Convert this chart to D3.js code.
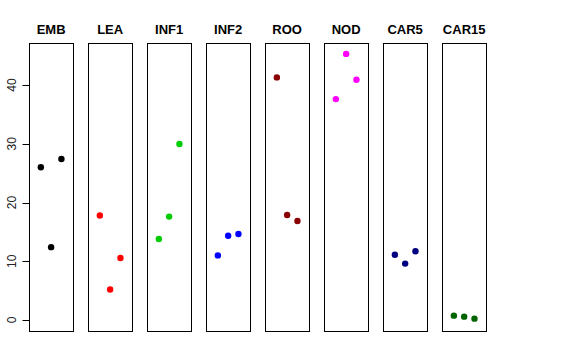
<!DOCTYPE html>
<html>
<head>
<meta charset="utf-8">
<script src="https://cdn.jsdelivr.net/npm/d3@7"></script>
<style>
  body { margin: 0; background: #fff; }
  svg { display: block; font-family: "Liberation Sans", Arial, sans-serif; }
</style>
</head>
<body>
<div id="chart"></div>
<script>
// tissues and the three replicates
var tissues = ["EMB", "LEA", "INF1", "INF2", "ROO", "NOD", "CAR5", "CAR15"];
var rep1 = [26.0, 17.8, 13.8, 11.0, 41.3, 37.6, 11.1, 0.74];
var rep2 = [12.4, 5.2, 17.6, 14.35, 17.87, 45.3, 9.6, 0.57];
var rep3 = [27.4, 10.55, 29.96, 14.64, 16.85, 40.9, 11.7, 0.23];
var colors = ["#000000", "#ff0000", "#00cd00", "#0000ff", "#8b0000", "#ff00ff", "#000080", "#006400"];
var yTicks = [0, 10, 20, 30, 40];

var width = 576, height = 360;
var plotTop = 43.3, plotBottom = 331;

var svg = d3.select("#chart").append("svg")
  .attr("width", width)
  .attr("height", height);

var x = d3.scaleBand()
  .domain(tissues)
  .range([29, 486.3])
  .paddingInner(0.25)
  .paddingOuter(0);

var y = d3.scaleLinear()
  .domain([-1.87, 47.1])
  .range([plotBottom, plotTop]);

// position of a replicate inside one panel
var inner = d3.scaleLinear()
  .domain([-2.15, 2.15])
  .range([0, x.bandwidth()]);

var points = [];
tissues.forEach(function(t, i) {
  [rep1[i], rep2[i], rep3[i]].forEach(function(v, j) {
    points.push({ tissue: t, rep: j - 1, value: v, color: colors[i] });
  });
});

// panel boxes
svg.append("g").selectAll("rect")
  .data(tissues)
  .enter().append("rect")
  .attr("x", d => Math.round(x(d)) + 0.5)
  .attr("y", Math.round(plotTop) + 0.5)
  .attr("width", Math.round(x.bandwidth()))
  .attr("height", Math.round(plotBottom - plotTop))
  .attr("fill", "none")
  .attr("stroke", "#000")
  .attr("stroke-width", 1);

// titles
svg.append("g").selectAll("text")
  .data(tissues)
  .enter().append("text")
  .attr("x", d => x(d) + x.bandwidth() / 2)
  .attr("y", 33.5)
  .attr("text-anchor", "middle")
  .attr("font-size", 13)
  .attr("font-weight", "bold")
  .text(d => d);

// y axis, R style: line from first to last tick
var axisG = svg.append("g")
  .attr("transform", "translate(" + (Math.round(x(tissues[0])) + 0.5) + ",0)");
axisG.append("line")
  .attr("y1", y(yTicks[0]))
  .attr("y2", y(yTicks[yTicks.length - 1]))
  .attr("stroke", "#000");
axisG.selectAll(".tick")
  .data(yTicks)
  .enter().append("line")
  .attr("x1", -7)
  .attr("x2", 0)
  .attr("y1", d => Math.round(y(d)) + 0.5)
  .attr("y2", d => Math.round(y(d)) + 0.5)
  .attr("stroke", "#000");
axisG.selectAll(".lab")
  .data(yTicks)
  .enter().append("text")
  .attr("transform", d => "translate(-14," + y(d) + ") rotate(-90)")
  .attr("text-anchor", "middle")
  .attr("font-size", 12)
  .attr("fill", "#222")
  .text(d => d);

// points
svg.append("g").selectAll("circle")
  .data(points)
  .enter().append("circle")
  .attr("cx", d => x(d.tissue) + inner(d.rep))
  .attr("cy", d => y(d.value))
  .attr("r", 3.2)
  .attr("fill", d => d.color);
</script>
</body>
</html>
